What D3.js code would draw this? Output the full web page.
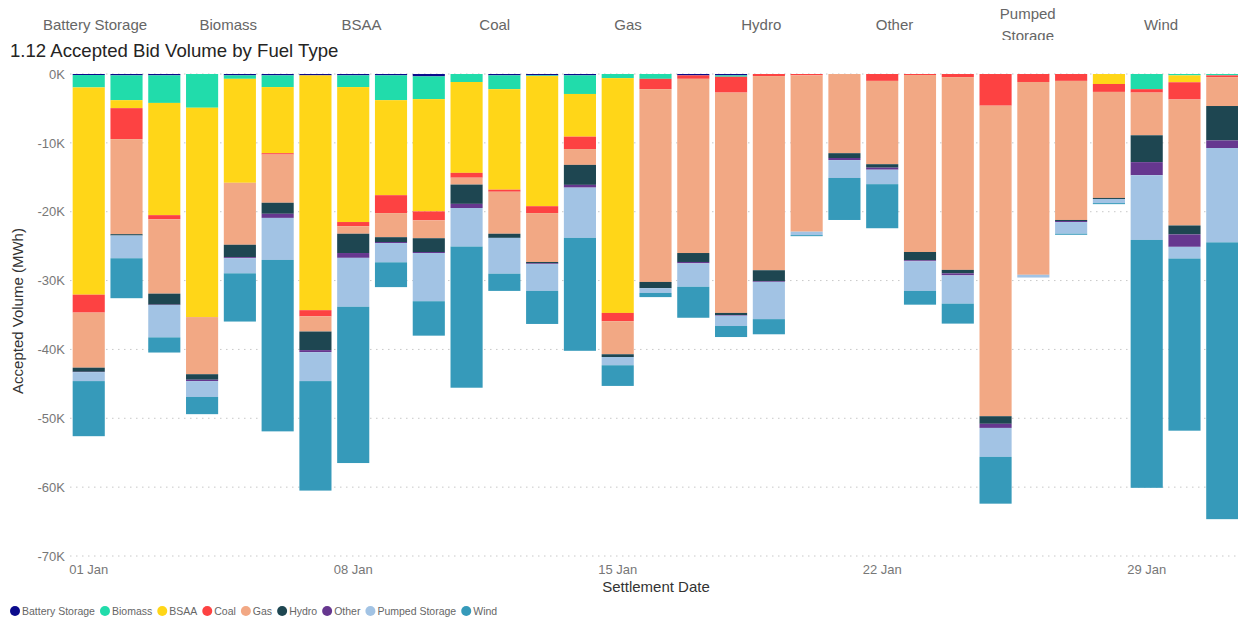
<!DOCTYPE html>
<html>
<head>
<meta charset="utf-8">
<script src="https://cdn.jsdelivr.net/npm/d3@7"></script>
<style>
  body { margin: 0; background: #fff; font-family: "Liberation Sans", Arial, sans-serif; }
  svg { display: block; }
</style>
</head>
<body>
<div id="chart"></div>
<script>
// Accepted bid volume (MWh) per settlement day, January
const days = d3.range(1, 32).map(d => (d < 10 ? "0" + d : "" + d) + " Jan");
const fuels = ["Battery Storage", "Biomass", "BSAA", "Coal", "Gas", "Hydro", "Other", "Pumped Storage", "Wind"];
const colors = ["#0b0b8c", "#21dcab", "#ffd618", "#fd4242", "#f2a884", "#1e4651", "#66378f", "#a2c3e4", "#369aba"];

// values in thousand MWh (accepted bids, drawn as negatives)
const batteryStorage = [0.15,0.2,0.2,0,0.2,0.2,0.2,0.2,0.2,0.35,0,0.2,0.2,0.2,0,0,0.2,0.2,0,0,0,0,0,0,0,0,0,0,0,0,0];
const biomass        = [1.8,3.6,4.0,4.9,0.5,1.7,0,1.7,3.6,3.3,1.16,2.0,0.1,2.7,0.6,0.7,0,0.2,0,0,0,0,0,0,0,0,0,0,2.2,0.2,0.2];
const bsaa           = [30.1,1.16,16.3,30.4,15.1,9.6,34.1,19.6,13.8,16.3,13.2,14.6,18.9,6.2,34.1,0,0,0,0,0,0,0,0,0,0,0,0,1.45,0,1.0,0];
const coal           = [2.6,4.5,0.6,0,0,0.2,0.9,0.6,2.6,1.3,0.7,0.3,1.0,1.8,1.2,1.5,0.5,2.3,0.3,0.2,0,1.0,0.15,0.45,4.6,1.16,1.0,1.15,0.5,2.5,0.25];
const gas            = [8.0,13.8,10.8,8.3,9.0,7.0,2.2,1.1,3.5,2.6,1.0,6.1,7.1,2.3,4.8,28.0,25.3,32.0,28.2,22.7,11.5,12.1,25.7,28.0,45.1,28.0,20.2,15.4,6.2,18.3,4.2];
const hydro          = [0.6,0.2,1.6,0.8,1.8,1.6,2.7,2.8,0.7,2.0,2.8,0.6,0.2,2.9,0.4,0.9,1.3,0.3,1.6,0,0.7,0.5,1.2,0.5,1.1,0,0.15,0.15,3.9,1.3,5.0];
const other          = [0.05,0,0.05,0.2,0.15,0.6,0.3,0.7,0.15,0.15,0.6,0,0.1,0.4,0,0,0.2,0.1,0.1,0,0.3,0.3,0.15,0.3,0.6,0,0.15,0,1.9,1.8,1.1];
const pumpedStorage  = [1.3,3.3,4.7,2.3,2.2,6.1,4.2,7.1,2.8,7.0,5.6,5.2,3.9,7.3,1.2,0.7,3.4,1.5,5.4,0.5,2.6,2.1,4.3,4.1,4.2,0.4,1.7,0.6,9.4,1.7,13.7];
const wind           = [8.0,5.8,2.2,2.5,7.0,24.9,15.9,22.7,3.6,5.0,20.5,2.5,4.8,16.4,3.0,0.6,4.5,1.6,2.2,0.15,6.1,6.4,2.0,2.9,6.8,0,0.15,0.15,36.0,25.0,40.2];

const series = [batteryStorage, biomass, bsaa, coal, gas, hydro, other, pumpedStorage, wind];
const xTicks = ["01 Jan", "08 Jan", "15 Jan", "22 Jan", "29 Jan"];
const yTicks = [0, -10000, -20000, -30000, -40000, -50000, -60000, -70000];

const width = 1238, height = 621;

const table = days.map((d, i) => {
  const row = { date: d };
  fuels.forEach((f, k) => row[f] = -series[k][i] * 1000);
  return row;
});

const svg = d3.select("#chart").append("svg")
  .attr("width", width)
  .attr("height", height);

const x = d3.scaleBand().domain(days).range([67, 1244]).paddingInner(0.15).paddingOuter(0.15);
const y = d3.scaleLinear().domain([-70000, 0]).range([556, 74]);
const color = d3.scaleOrdinal().domain(fuels).range(colors);

// gridlines
svg.append("g")
  .selectAll("line")
  .data(yTicks)
  .enter().append("line")
  .attr("x1", 70).attr("x2", width)
  .attr("y1", d => y(d)).attr("y2", d => y(d))
  .attr("stroke", "#c8c8c8")
  .attr("stroke-dasharray", "1.5,4.5");

// y axis
const yAxis = svg.append("g")
  .attr("transform", "translate(66,0)")
  .call(d3.axisLeft(y).tickValues(yTicks).tickSize(0).tickPadding(1)
    .tickFormat(d => (d / 1000) + "K"));
yAxis.select(".domain").remove();
yAxis.selectAll("text").attr("fill", "#777").style("font-size", "13px")
  .style("font-family", "Liberation Sans, Arial, sans-serif");

// x axis
const xAxis = svg.append("g")
  .attr("transform", "translate(0,560)")
  .call(d3.axisBottom(x).tickValues(xTicks).tickSize(0).tickPadding(5));
xAxis.select(".domain").remove();
xAxis.selectAll("text").attr("fill", "#777").style("font-size", "13px")
  .style("font-family", "Liberation Sans, Arial, sans-serif");

// stacked bars
const stacked = d3.stack().keys(fuels).offset(d3.stackOffsetDiverging)(table);

svg.append("g")
  .selectAll("g")
  .data(stacked)
  .enter().append("g")
  .attr("fill", d => color(d.key))
  .selectAll("rect")
  .data(d => d)
  .enter().append("rect")
  .attr("x", d => x(d.data.date))
  .attr("width", x.bandwidth())
  .attr("y", d => y(Math.max(d[0], d[1])))
  .attr("height", d => Math.abs(y(d[0]) - y(d[1])));

// header labels across the top
const header = svg.append("g")
  .style("font-size", "15px")
  .attr("fill", "#666");
fuels.forEach((f, i) => {
  const cx = 95 + i * 133.25;
  if (f === "Pumped Storage") {
    header.append("text").attr("x", cx).attr("y", 19).attr("text-anchor", "middle").text("Pumped");
    header.append("text").attr("x", cx).attr("y", 41).attr("text-anchor", "middle")
      .attr("clip-path", "url(#hdrClip)").text("Storage");
  } else {
    header.append("text").attr("x", cx).attr("y", 30).attr("text-anchor", "middle").text(f);
  }
});
svg.append("clipPath").attr("id", "hdrClip")
  .append("rect").attr("x", 0).attr("y", 0).attr("width", width).attr("height", 40);

// title
svg.append("text")
  .attr("x", 10).attr("y", 57)
  .attr("fill", "#252423")
  .style("font-size", "18.6px")
  .text("1.12 Accepted Bid Volume by Fuel Type");

// axis titles
svg.append("text")
  .attr("transform", "translate(23,311) rotate(-90)")
  .attr("text-anchor", "middle")
  .attr("fill", "#333")
  .style("font-size", "15px")
  .text("Accepted Volume (MWh)");

svg.append("text")
  .attr("x", 656).attr("y", 592)
  .attr("text-anchor", "middle")
  .attr("fill", "#333")
  .style("font-size", "15px")
  .text("Settlement Date");

// legend
const legend = svg.append("g").attr("transform", "translate(0,611)");
let lx = 10;
fuels.forEach(f => {
  legend.append("circle").attr("cx", lx + 5).attr("cy", 0).attr("r", 5).attr("fill", color(f));
  const t = legend.append("text")
    .attr("x", lx + 12).attr("y", 4)
    .attr("fill", "#666")
    .style("font-size", "10.5px")
    .text(f);
  lx += 12 + t.node().getComputedTextLength() + 5;
});
</script>
</body>
</html>
